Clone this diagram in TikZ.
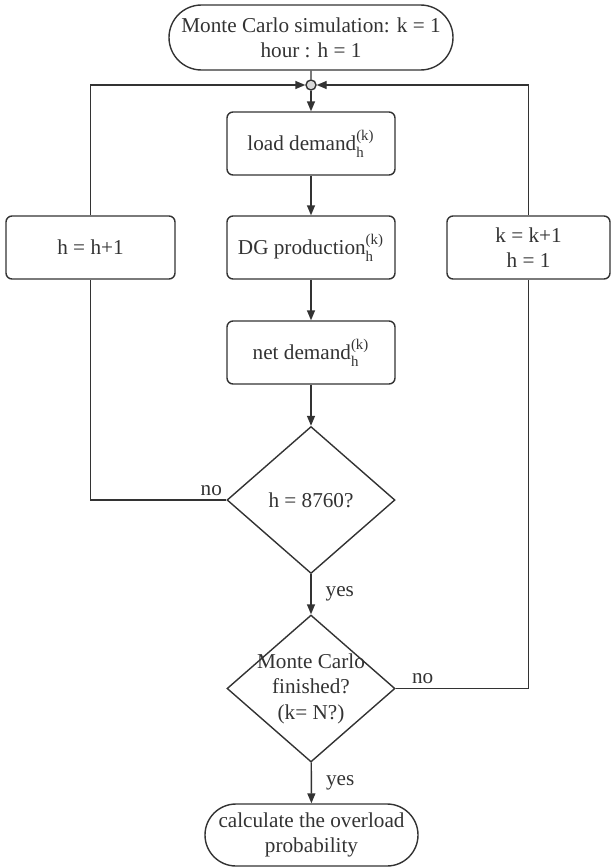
\documentclass[tikz,border=0pt]{standalone}
\usepackage{amsmath}
\usepackage{fontspec}
\setmainfont{Liberation Serif}
\usepackage{xcolor}
\usetikzlibrary{arrows.meta,positioning,shapes.geometric,shapes.misc}
\definecolor{ink}{HTML}{333333}
\definecolor{knot}{HTML}{D9D9D9}
\newcommand{\hk}{$^{\text{(k)}}_{\text{h}}$}

\begin{document}
\begin{tikzpicture}[x=0.5pt,y=-0.5pt,font=\fontsize{10.6}{12.7}\selectfont,>={Triangle[length=5pt,width=4pt]},
 line/.style={draw=ink,line width=0.7pt},
 stepbox/.style={line,rounded corners=3pt,text=ink,align=center,minimum width=84pt,minimum height=31.5pt,inner sep=2pt},
 term/.style={line,rounded rectangle,text=ink,align=center,inner sep=1pt},
 test/.style={line,diamond,text=ink,align=center,inner sep=-6pt,minimum width=84pt,minimum height=73.5pt},
 tag/.style={text=ink,inner sep=2pt}]
\useasboundingbox (0,0) rectangle (611,867);
% main column
\node[term,minimum width=144pt,minimum height=32.5pt] (start) at (311,37.5) {Monte Carlo simulation: k = 1\\hour : h = 1};
\node[line,circle,fill=knot,inner sep=0pt,minimum size=5pt] (jn) at (311,85) {};
\node[stepbox] (load) at (311,143.5) {load demand\hk};
\node[stepbox] (dg) at (311,247.5) {DG production\hk};
\node[stepbox] (net) at (311,352.5) {net demand\hk};
\node[test] (hend) at (311,500) {h = 8760?};
\node[test] (mcend) at (311,688.5) {Monte Carlo\\finished?\\(k= N?)};
\node[term,minimum width=108.5pt,minimum height=31pt] (calc) at (311.5,835) {calculate the overload\\probability};
% side boxes
\node[stepbox,minimum width=84.5pt] (hinc) at (90.5,247.5) {h = h+1};
\node[stepbox,minimum width=81.5pt] (kinc) at (528.5,247.5) {k = k+1\\h = 1};
% connectors
\draw[line] (start) -- (jn);
\draw[line,->] (jn) -- (load);
\draw[line,->] (load) -- (dg);
\draw[line,->] (dg) -- (net);
\draw[line,->] (net) -- (hend);
\draw[line,->] (hend) -- node[tag,right=5pt] {yes} (mcend);
\draw[line,->] (mcend) -- node[tag,right=5pt] {yes} (calc);
\draw[line] (hend.west) -| (hinc.south);
\draw[line,->] (hinc.north) |- (jn.west);
\draw[line] (mcend.east) -| (kinc.south);
\draw[line,->] (kinc.north) |- (jn.east);
\node[tag,anchor=south east] at (hend.west) {no};
\node[tag,anchor=south west] at ([xshift=6pt]mcend.east) {no};
\end{tikzpicture}
\end{document}
